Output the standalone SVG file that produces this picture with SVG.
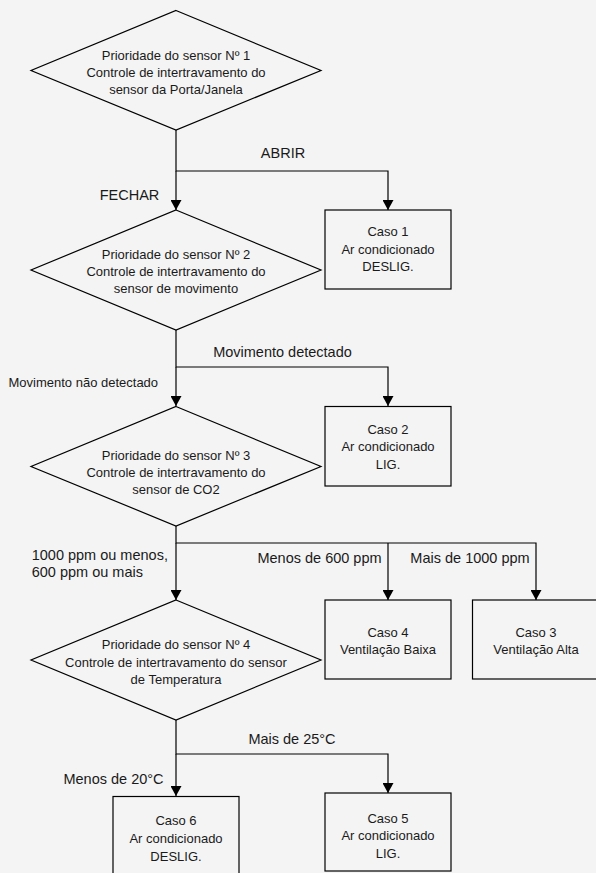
<svg xmlns="http://www.w3.org/2000/svg" width="596" height="873" viewBox="0 0 596 873">
<style>
.bg{fill:#f4f4f4}
.shape{fill:#f4f4f4;stroke:#000;stroke-width:1.2}
.edge{fill:none;stroke:#000;stroke-width:1.2}
text{font-family:"Liberation Sans",Arial,Helvetica,sans-serif;font-size:13px;fill:#1a1a1a}
.c{text-anchor:middle}
.lbl{font-size:14.5px}
</style>
<defs>
<marker id="arr" markerUnits="userSpaceOnUse" viewBox="0 0 10 11" markerWidth="10" markerHeight="11" refX="10" refY="5.5" orient="auto">
<path d="M0,0 L10,5.5 L0,11 Z" fill="#000"/>
</marker>
</defs>
<rect class="bg" x="0" y="0" width="596" height="873"/>

<g id="edges">
<path class="edge" d="M176,130 V171 H388 V210" marker-end="url(#arr)"/>
<path class="edge" d="M176,171 V210" marker-end="url(#arr)"/>
<path class="edge" d="M176,330 V367 H388 V406" marker-end="url(#arr)"/>
<path class="edge" d="M176,367 V406" marker-end="url(#arr)"/>
<path class="edge" d="M176,526 V543 H536 V600" marker-end="url(#arr)"/>
<path class="edge" d="M388,543 V600" marker-end="url(#arr)"/>
<path class="edge" d="M176,543 V600" marker-end="url(#arr)"/>
<path class="edge" d="M176,720 V754 H388 V793" marker-end="url(#arr)"/>
<path class="edge" d="M176,754 V796" marker-end="url(#arr)"/>
<text class="c lbl" x="283" y="157.5">ABRIR</text>
<text class="c lbl" x="129.5" y="200">FECHAR</text>
<text class="c lbl" x="282.5" y="356.5">Movimento detectado</text>
<text class="c" x="83.3" y="386.5">Movimento não detectado</text>
<text class="lbl" x="31.7" y="560">1000 ppm ou menos,</text>
<text class="lbl" x="31.7" y="577">600 ppm ou mais</text>
<text class="c lbl" x="319.5" y="563">Menos de 600 ppm</text>
<text class="c lbl" x="470" y="563">Mais de 1000 ppm</text>
<text class="c lbl" x="292" y="743.5">Mais de 25°C</text>
<text class="c lbl" x="113.5" y="783.5">Menos de 20°C</text>
</g>

<g id="d1">
<polygon class="shape" points="176,10.5 321,70.5 176,130 31,70.5"/>
<text class="c" x="176" y="59.5">Prioridade do sensor Nº 1</text>
<text class="c" x="176" y="76.5">Controle de intertravamento do</text>
<text class="c" x="176" y="93.5">sensor da Porta/Janela</text>
</g>

<g id="case1">
<rect class="shape" x="325" y="210" width="126" height="79"/>
<text class="c" x="388" y="236">Caso 1</text>
<text class="c" x="388" y="253.5">Ar condicionado</text>
<text class="c" x="388" y="271">DESLIG.</text>
</g>

<g id="d2">
<polygon class="shape" points="176,210 321,270 176,330 31,270"/>
<text class="c" x="176" y="258.5">Prioridade do sensor Nº 2</text>
<text class="c" x="176" y="275.5">Controle de intertravamento do</text>
<text class="c" x="176" y="292.5">sensor de movimento</text>
</g>

<g id="case2">
<rect class="shape" x="325" y="406.5" width="126" height="79.5"/>
<text class="c" x="388" y="433.5">Caso 2</text>
<text class="c" x="388" y="451">Ar condicionado</text>
<text class="c" x="388" y="468.5">LIG.</text>
</g>

<g id="d3">
<polygon class="shape" points="176,406.5 321,466.5 176,526 31,466.5"/>
<text class="c" x="176" y="460">Prioridade do sensor Nº 3</text>
<text class="c" x="176" y="477">Controle de intertravamento do</text>
<text class="c" x="176" y="494">sensor de CO2</text>
</g>

<g id="case4">
<rect class="shape" x="325" y="600" width="126" height="79"/>
<text class="c" x="388" y="636.5">Caso 4</text>
<text class="c" x="388" y="653.5">Ventilação Baixa</text>
</g>

<g id="case3">
<rect class="shape" x="472.5" y="600" width="126" height="79"/>
<text class="c" x="536" y="636.5">Caso 3</text>
<text class="c" x="536" y="653.5">Ventilação Alta</text>
</g>

<g id="d4">
<polygon class="shape" points="176,600 321,660 176,720 31,660"/>
<text class="c" x="176" y="648.5">Prioridade do sensor Nº 4</text>
<text class="c" x="176" y="666.5">Controle de intertravamento do sensor</text>
<text class="c" x="176" y="683.5">de Temperatura</text>
</g>

<g id="case6">
<rect class="shape" x="113" y="796.5" width="126" height="80"/>
<text class="c" x="176" y="825">Caso 6</text>
<text class="c" x="176" y="843">Ar condicionado</text>
<text class="c" x="176" y="861">DESLIG.</text>
</g>

<g id="case5">
<rect class="shape" x="325" y="793" width="126" height="78"/>
<text class="c" x="388" y="822.5">Caso 5</text>
<text class="c" x="388" y="840">Ar condicionado</text>
<text class="c" x="388" y="857.5">LIG.</text>
</g>
</svg>
